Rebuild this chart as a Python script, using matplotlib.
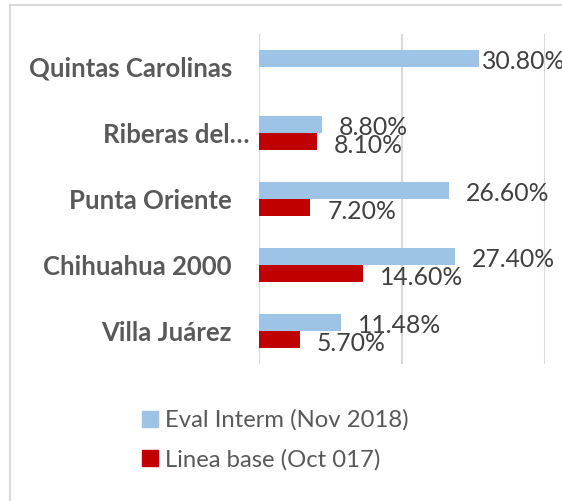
import numpy as np
import matplotlib.pyplot as plt
import matplotlib.transforms as mtransforms
from matplotlib.lines import Line2D
from matplotlib.patches import Patch

plt.rcParams['font.family'] = ['Lato', 'DejaVu Sans']

categories = ['Quintas Carolinas', 'Riberas del…', 'Punta Oriente', 'Chihuahua 2000', 'Villa Juárez']
eval_interm = [30.80, 8.80, 26.60, 27.40, 11.48]
linea_base = [np.nan, 8.10, 7.20, 14.60, 5.70]
eval_labels = ['30.80%', '8.80%', '26.60%', '27.40%', '11.48%']
base_labels = ['', '8.10%', '7.20%', '14.60%', '5.70%']

W, H = 562, 501
fig = plt.figure(figsize=(W / 100, H / 100), dpi=100)
ax = fig.add_axes([259 / W, 1 - 364 / H, (545 - 259) / W, (364 - 34) / H])

y = np.arange(len(categories))
h = 0.26
blue = '#9DC3E6'
red = '#C00000'

ax.barh(y - h / 2, eval_interm, height=h, color=blue, zorder=3)
ax.barh(y + h / 2, linea_base, height=h, color=red, zorder=3)

# label offsets (points) - first label sits close to its bar
dx_eval = [2, 12, 12, 12, 12]
for i in range(len(categories)):
    ax.annotate(eval_labels[i], (eval_interm[i], y[i] - h / 2), xytext=(dx_eval[i], -2.5),
                textcoords='offset points', ha='left', va='center',
                fontsize=17.8, color='#404040', zorder=4, annotation_clip=False)
    if base_labels[i]:
        ax.annotate(base_labels[i], (linea_base[i], y[i] + h / 2), xytext=(12, -2.5),
                    textcoords='offset points', ha='left', va='center',
                    fontsize=17.8, color='#404040', zorder=4, annotation_clip=False)

ax.set_xlim(0, 40)
ax.set_ylim(len(categories) - 0.5, -0.5)
ax.set_xticks([0, 20, 40])
ax.set_xticklabels([])
ax.set_yticks(y)
ax.set_yticklabels(categories, fontsize=18.5, fontweight='bold', color='#595959')
ax.tick_params(axis='both', length=0)
ax.tick_params(axis='y', pad=19.5)
ax.grid(axis='x', color='#D9D9D9', linewidth=1.5, zorder=0)
for s in ax.spines.values():
    s.set_visible(False)

# the truncated label sits a bit further right in the original
lab = ax.get_yticklabels()[1]
lab.set_transform(lab.get_transform() + mtransforms.ScaledTranslation(13 / 72, 0, fig.dpi_scale_trans))

# chart border (only top and left edge visible)
fig.add_artist(Line2D([10 / W, 10 / W], [0, 1 - 5 / H], color='#D9D9D9', linewidth=1.5,
                      transform=fig.transFigure))
fig.add_artist(Line2D([10 / W, 1], [1 - 5 / H, 1 - 5 / H], color='#D9D9D9', linewidth=1.5,
                      transform=fig.transFigure))

handles = [Patch(color=blue), Patch(color=red)]
fig.legend(handles, ['Eval Interm (Nov 2018)', 'Linea base (Oct 017)'],
           loc='center', bbox_to_anchor=(0.49, 1 - 440 / H), frameon=False,
           fontsize=17.2, labelcolor='#595959', handlelength=0.65, handleheight=0.65,
           handletextpad=0.3, labelspacing=0.75)

fig.savefig('out.png', dpi=100)
